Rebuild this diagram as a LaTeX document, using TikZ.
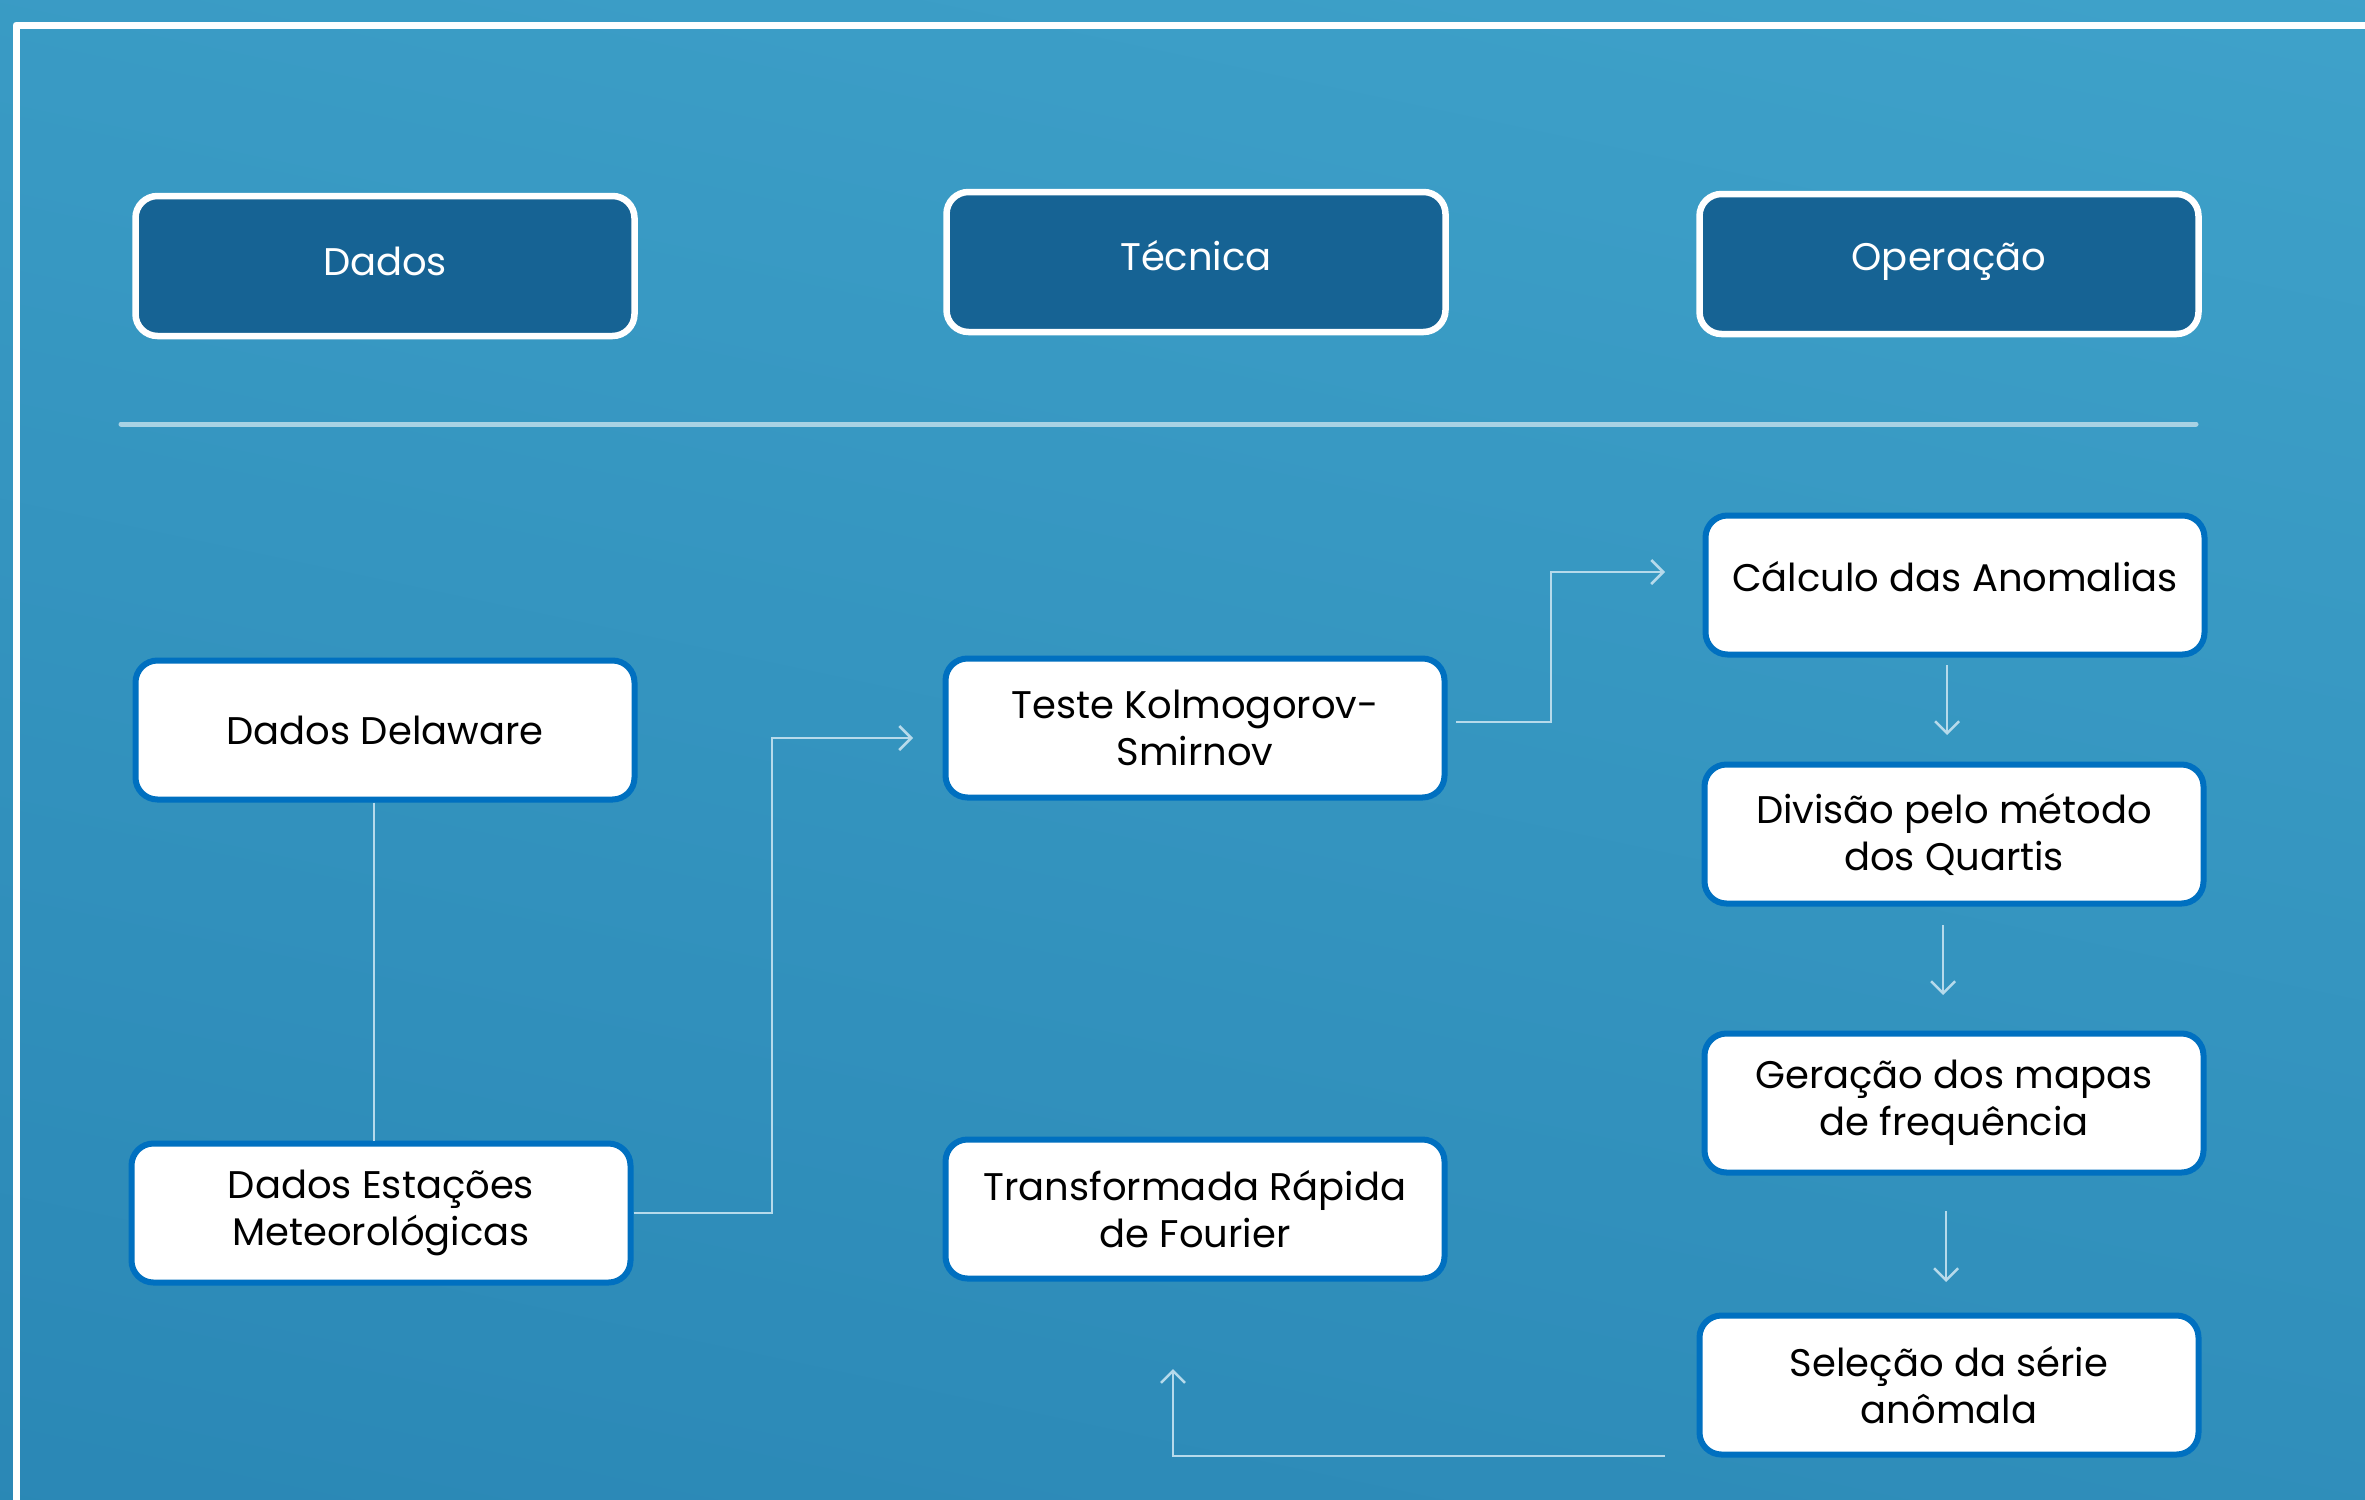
\documentclass[tikz,border=0pt]{standalone}
\usepackage{fontspec}
\setmainfont{Poppins}
\usetikzlibrary{arrows.meta}
\definecolor{bgtop}{RGB}{63,162,202}
\definecolor{bgbot}{RGB}{42,135,181}
\definecolor{hdrfill}{RGB}{22,99,148}
\definecolor{boxedge}{RGB}{0,112,192}
\definecolor{connc}{RGB}{182,218,235}
\definecolor{sepc}{RGB}{168,210,228}
\newcommand{\upby}[2]{\raisebox{#1}[\height][\depth]{#2}}
\begin{document}
\begin{tikzpicture}[x=1pt,y=-1pt,
  hdr/.style={draw=white, line width=6.5pt, fill=hdrfill, rounded corners=22pt,
    minimum width=499pt, minimum height=140pt, text=white, align=center,
    font=\fontsize{38.5}{47}\selectfont},
  wbox/.style={draw=boxedge, line width=6pt, fill=white, rounded corners=22pt,
    minimum width=499pt, minimum height=139pt, text=black, align=center,
    font=\fontsize{38.5}{47}\selectfont},
  conn/.style={draw=connc, line width=2.5pt},
  arr/.style={conn, -{Straight Barb[length=12pt,width=24pt,line width=2.5pt]}}]
\useasboundingbox (0,0) rectangle (2365,1499);
\clip (0,0) rectangle (2365,1499);
\shade[top color=bgtop, bottom color=bgbot, shading angle=-12] (-200,-200) rectangle (2565,1699);
% outer frame
\draw[white, line width=7pt, line join=round] (16,1700) -- (16,25) -- (2600,25);
% separator
\draw[sepc, line width=5pt, line cap=round] (121,424) -- (2196,424);
% headers
\node[hdr] (hd) at (385,266) {\upby{5pt}{Dados}};
\node[hdr] (ht) at (1196,262) {\upby{6pt}{Técnica}};
\node[hdr] (ho) at (1949,264) {\upby{2pt}{Operação}};
% boxes
\node[wbox] (calc) at (1955,585) {\upby{8pt}{Cálculo das Anomalias}};
\node[wbox] (div) at (1954,834) {Divisão pelo método\\dos Quartis};
\node[wbox] (ger) at (1954,1103) {Geração dos mapas\\de frequência};
\node[wbox] (sel) at (1949,1385) {Seleção da série\\anômala};
\node[wbox] (ks) at (1195,728) {Teste Kolmogorov-\\Smirnov};
\node[wbox] (fft) at (1195,1209) {Transformada Rápida\\de Fourier};
\node[wbox] (del) at (385,730) {Dados Delaware};
\node[wbox] (est) at (381,1213) {Dados Estações\\Meteorológicas};
% helper coordinates
\coordinate (xdel) at (374,0);
\coordinate (b2) at (772,0);
\coordinate (t2) at (913,738);
\coordinate (s3) at (1456,722);
\coordinate (b3) at (1551,0);
\coordinate (t3) at (1665,572);
\coordinate (s4) at (1947,665);
\coordinate (t4) at (1947,735);
\coordinate (s5) at (1943,925);
\coordinate (t5) at (1943,995);
\coordinate (s6) at (1946,1211);
\coordinate (t6) at (1946,1282);
\coordinate (s7) at (1665,1456);
\coordinate (b7) at (1173,1456);
\coordinate (t7) at (1173,1369);
% connectors
\draw[conn] (del.south -| xdel) -- (est.north -| xdel);
\draw[arr] (est.east) -- (est.east -| b2) -- (b2 |- t2) -- (t2);
\draw[arr] (s3) -- (s3 -| b3) -- (b3 |- t3) -- (t3);
\draw[arr] (s4) -- (t4);
\draw[arr] (s5) -- (t5);
\draw[arr] (s6) -- (t6);
\draw[arr] (s7) -- (b7) -- (t7);
\end{tikzpicture}
\end{document}
